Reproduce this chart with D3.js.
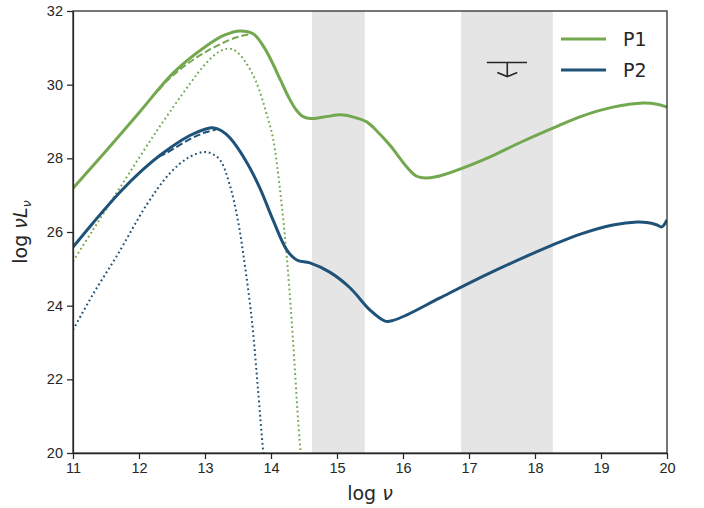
<!DOCTYPE html>
<html>
<head>
<meta charset="utf-8">
<script src="https://cdn.jsdelivr.net/npm/d3@7"></script>
<style>
  body { margin: 0; background: #fff; }
  svg { font-family: "DejaVu Sans", sans-serif; }
  .axis text { fill: #262626; font-size: 14.5px; }
  .axis path, .axis line { stroke: #262626; stroke-width: 1.25; }
</style>
</head>
<body>
<div class="chart"></div>
<script>
// log nu values and log nuL_nu values
var p1X = [11.0, 11.5, 12.02, 12.52, 13.02, 13.3, 13.53, 13.73, 13.9, 14.03, 14.15, 14.27, 14.38, 14.48, 14.59, 14.8, 15.05, 15.25, 15.45, 15.6, 15.8, 16.06, 16.2, 16.3, 16.5, 16.82, 17.32, 17.8, 18.27, 18.7, 19.18, 19.64, 19.85, 20.0];
var p1Y = [27.19, 28.2, 29.28, 30.32, 31.05, 31.35, 31.46, 31.38, 31.0, 30.56, 30.1, 29.65, 29.32, 29.14, 29.08, 29.12, 29.18, 29.12, 28.99, 28.75, 28.36, 27.76, 27.52, 27.47, 27.5, 27.68, 28.04, 28.45, 28.82, 29.14, 29.39, 29.5, 29.47, 29.39];

var p1DashX = [12.3, 12.41, 12.7, 13.02, 13.38, 13.55, 13.68];
var p1DashY = [29.85, 30.08, 30.52, 30.9, 31.22, 31.32, 31.37];

var p1DotX = [11.0, 11.3, 11.71, 12.26, 12.77, 13.0, 13.2, 13.35, 13.47, 13.6, 13.77, 13.95, 14.03, 14.14, 14.24, 14.33, 14.41, 14.45];
var p1DotY = [25.2, 26.05, 27.2, 28.72, 30.02, 30.55, 30.88, 30.98, 30.91, 30.65, 30.1, 29.1, 28.55, 27.1, 25.3, 23.15, 20.9, 20.0];

var p2X = [11.0, 11.3, 11.71, 12.05, 12.36, 12.77, 13.0, 13.12, 13.25, 13.38, 13.62, 13.83, 14.03, 14.24, 14.39, 14.59, 14.89, 15.2, 15.5, 15.73, 15.85, 16.06, 16.56, 17.32, 18.27, 18.7, 19.18, 19.55, 19.72, 19.85, 19.92, 20.0];
var p2Y = [25.59, 26.24, 27.08, 27.68, 28.14, 28.62, 28.79, 28.83, 28.75, 28.55, 27.93, 27.2, 26.33, 25.51, 25.24, 25.16, 24.91, 24.48, 23.88, 23.58, 23.6, 23.75, 24.21, 24.89, 25.65, 25.95, 26.19, 26.27, 26.25, 26.19, 26.14, 26.33];

var p2DashX = [12.3, 12.41, 12.77, 13.0, 13.17];
var p2DashY = [28.05, 28.14, 28.52, 28.7, 28.78];

var p2DotX = [11.0, 11.3, 11.68, 12.12, 12.47, 12.75, 12.97, 13.1, 13.23, 13.38, 13.5, 13.58, 13.71, 13.8, 13.88, 13.9];
var p2DotY = [23.34, 24.3, 25.4, 26.75, 27.6, 28.02, 28.17, 28.13, 27.95, 27.25, 26.3, 25.4, 23.61, 21.79, 20.08, 19.8];

// shaded bands
var bandStart = [14.62, 16.88];
var bandEnd   = [15.42, 18.27];

// upper limit marker
var ulX = 17.58, ulXLo = 17.27, ulXHi = 17.88;
var ulY = 30.6, ulYTo = 30.22;

var xTicks = [11, 12, 13, 14, 15, 16, 17, 18, 19, 20];
var yTicks = [20, 22, 24, 26, 28, 30, 32];

var green = '#74a84f';
var blue  = '#1f5279';

// zip two arrays -> Array-of-[x, y]
function zip(xs, ys){
    return xs.map((x, i) => { return [x, ys[i]]; });
}

var margin = { top: 11, right: 37, bottom: 55, left: 73 };
var width  = 704 - margin.left - margin.right;
var height = 508 - margin.top - margin.bottom;

var svg = d3.select('.chart').append('svg')
    .attr('width', 704)
    .attr('height', 508)
    .append('g')
    .attr('transform', `translate(${margin.left}, ${margin.top})`);

var x = d3.scaleLinear().domain([11, 20]).range([0, width]);
var y = d3.scaleLinear().domain([20, 32]).range([height, 0]);

svg.append('clipPath').attr('id', 'clip')
    .append('rect')
    .attr('width', width)
    .attr('height', height);

// bands
svg.selectAll('.band')
    .data(bandStart.map((s, i) => { return { s: s, e: bandEnd[i] }; }))
    .enter().append('rect')
    .attr('class', 'band')
    .attr('x', (d) => { return x(d.s); })
    .attr('width', (d) => { return x(d.e) - x(d.s); })
    .attr('y', y(32))
    .attr('height', y(20) - y(32))
    .attr('fill', '#e5e5e5');

var line = d3.line()
    .x((d) => { return x(d[0]); })
    .y((d) => { return y(d[1]); })
    .curve(d3.curveCatmullRom.alpha(0.5));

var curves = [
    { pts: zip(p1DotX, p1DotY),  color: green, w: 2,   dash: '1.8,2.9' },
    { pts: zip(p2DotX, p2DotY),  color: blue,  w: 2,   dash: '1.8,2.9' },
    { pts: zip(p1DashX, p1DashY), color: green, w: 2,  dash: '7,3' },
    { pts: zip(p2DashX, p2DashY), color: blue,  w: 2,  dash: '7,3' },
    { pts: zip(p1X, p1Y), color: green, w: 3, dash: null },
    { pts: zip(p2X, p2Y), color: blue,  w: 3, dash: null }
];

var plot = svg.append('g').attr('clip-path', 'url(#clip)');

plot.selectAll('.curve')
    .data(curves)
    .enter().append('path')
    .attr('class', 'curve')
    .attr('d', (d) => { return line(d.pts); })
    .attr('fill', 'none')
    .attr('stroke', (d) => { return d.color; })
    .attr('stroke-width', (d) => { return d.w; })
    .attr('stroke-dasharray', (d) => { return d.dash; });

// upper limit
var ul = svg.append('g').attr('stroke', '#262626').attr('fill', 'none').attr('stroke-width', 1.6);
ul.append('line')
    .attr('x1', x(ulXLo)).attr('x2', x(ulXHi))
    .attr('y1', y(ulY)).attr('y2', y(ulY));
ul.append('line')
    .attr('x1', x(ulX)).attr('x2', x(ulX))
    .attr('y1', y(ulY)).attr('y2', y(ulYTo));
ul.append('path')
    .attr('d', `M${x(ulX) - 10},${y(ulYTo) - 4}L${x(ulX)},${y(ulYTo)}L${x(ulX) + 10},${y(ulYTo) - 4}`);

// axes
svg.append('g')
    .attr('class', 'axis')
    .attr('transform', `translate(0, ${height})`)
    .call(d3.axisBottom(x).tickValues(xTicks).tickSize(6).tickPadding(4).tickSizeOuter(0));
svg.append('g')
    .attr('class', 'axis')
    .call(d3.axisLeft(y).tickValues(yTicks).tickSize(6).tickPadding(4).tickSizeOuter(0));

// box
svg.append('rect')
    .attr('width', width)
    .attr('height', height)
    .attr('fill', 'none')
    .attr('stroke', '#262626')
    .attr('stroke-width', 1.25);

// axis labels
var xl = svg.append('text')
    .attr('x', width / 2)
    .attr('y', height + 47)
    .attr('text-anchor', 'middle')
    .attr('fill', '#262626')
    .style('font-size', '19px');
xl.append('tspan').text('log ');
xl.append('tspan').attr('font-style', 'italic').text('ν');

var yl = svg.append('text')
    .attr('transform', `translate(${-46}, ${height / 2}) rotate(-90)`)
    .attr('text-anchor', 'middle')
    .attr('fill', '#262626')
    .style('font-size', '19px');
yl.append('tspan').text('log ');
yl.append('tspan').attr('font-style', 'italic').text('νL');
yl.append('tspan').attr('font-style', 'italic').attr('dy', 4).style('font-size', '13px').text('ν');

// legend
var legend = svg.append('g');
[{ name: 'P1', color: green }, { name: 'P2', color: blue }].forEach((d, i) => {
    var ly = 28 + i * 31;
    legend.append('line')
        .attr('x1', 488).attr('x2', 533)
        .attr('y1', ly).attr('y2', ly)
        .attr('stroke', d.color)
        .attr('stroke-width', 3);
    legend.append('text')
        .attr('x', 550)
        .attr('y', ly + 7)
        .attr('fill', '#262626')
        .style('font-size', '19px')
        .text(d.name);
});
</script>
</body>
</html>
